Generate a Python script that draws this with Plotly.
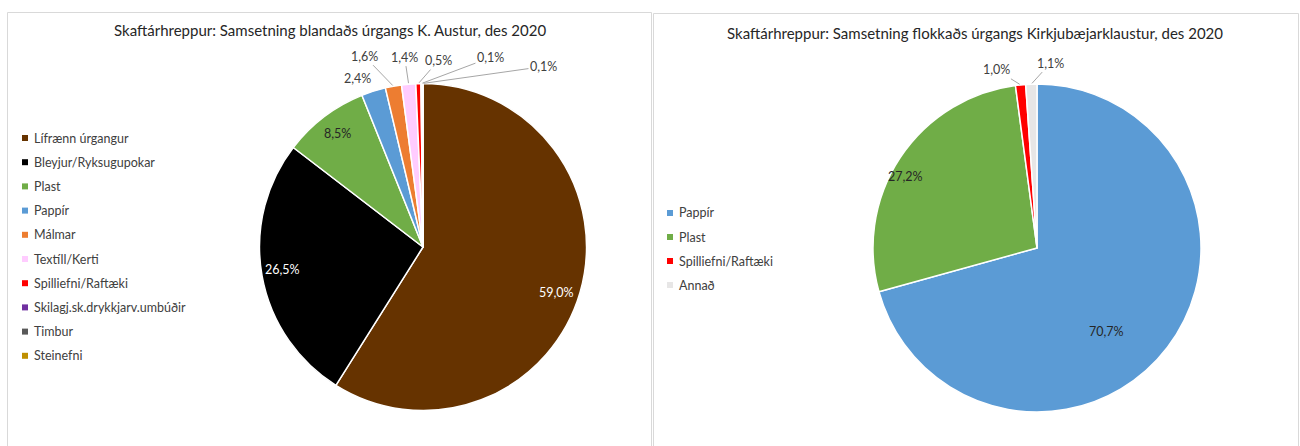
import math
import plotly.graph_objects as go

# ---------------- data ----------------
left_title = "Skaftárhreppur: Samsetning blandaðs úrgangs K. Austur, des 2020"
left_labels = ["Lífrænn úrgangur", "Bleyjur/Ryksugupokar", "Plast", "Pappír", "Málmar",
               "Textíll/Kerti", "Spilliefni/Raftæki", "Skilagj.sk.drykkjarv.umbúðir",
               "Timbur", "Steinefni"]
left_values = [59.0, 26.5, 8.5, 2.4, 1.6, 1.4, 0.5, 0.1, 0.1, 0.0]

right_title = "Skaftárhreppur: Samsetning flokkaðs úrgangs Kirkjubæjarklaustur, des 2020"
right_labels = ["Pappír", "Plast", "Spilliefni/Raftæki", "Annað"]
right_values = [70.7, 27.2, 1.0, 1.1]

# ---------------- styles ----------------
left_colors = ["#663300", "#000000", "#70AD47", "#5B9BD5", "#ED7D31",
               "#FFCCFF", "#FF0000", "#7030A0", "#595959", "#BF8F00"]
right_colors = ["#5B9BD5", "#70AD47", "#FF0000", "#E7E6E6"]

# label placement: ("in", dx, dy, color) or ("out", ox, oy, leader) or None
left_place = [("in", -3, 6, "white"), ("in", 0, -3, "white"), ("in", 1, 0, "#262626"),
              ("out", -16, -13, False), ("out", -29, -30, True), ("out", -4, -27, True),
              ("out", 20, -23, True), ("out", 69, -26, True), ("out", 121, -17, True), None]
right_place = [("in", -44, -3, "#262626"), ("in", -12, 7, "#262626"),
               ("out", -24, -15, True), ("out", 19, -21, True)]

W, H = 1300, 446
FONT = "Lato"
TXT = "#404040"

left_geo = dict(cx=423, cy=247, r=163.5)
right_geo = dict(cx=1037, cy=248, r=164)


def px(x):
    return x / W


def py(y):
    return 1 - y / H


def domain(g):
    return dict(x=[px(g["cx"] - g["r"]), px(g["cx"] + g["r"])],
                y=[py(g["cy"] + g["r"]), py(g["cy"] - g["r"])])


fig = go.Figure()
fig.add_trace(go.Pie(labels=left_labels, values=left_values, sort=False,
                     direction="clockwise", rotation=0, textinfo="none",
                     marker=dict(colors=left_colors, line=dict(color="white", width=1.5)),
                     domain=domain(left_geo), showlegend=False))
fig.add_trace(go.Pie(labels=right_labels, values=right_values, sort=False,
                     direction="clockwise", rotation=0, textinfo="none",
                     marker=dict(colors=right_colors, line=dict(color="white", width=1.5)),
                     domain=domain(right_geo), showlegend=False))

annotations = []
shapes = []


def fmt(v):
    return f"{v:.1f}%".replace(".", ",")


def add_labels(values, place, g):
    total = sum(values)
    cum = 0.0
    for v, p in zip(values, place):
        start = cum
        cum += v
        if p is None or v <= 0:
            continue
        mid = 2 * math.pi * (start + v / 2) / total
        s, c = math.sin(mid), math.cos(mid)
        if p[0] == "in":
            rr = 0.87 * g["r"]
            x = g["cx"] + rr * s + p[1]
            y = g["cy"] - rr * c + p[2]
            annotations.append(dict(x=px(x), y=py(y), xref="paper", yref="paper",
                                    xanchor="center", yanchor="middle",
                                    text=fmt(v), showarrow=False,
                                    font=dict(family=FONT, size=12.5, color=p[3])))
        else:
            x = g["cx"] + g["r"] * s
            y = g["cy"] - g["r"] * c
            annotations.append(dict(x=px(x), y=py(y), xref="paper", yref="paper",
                                    xanchor="center", yanchor="middle",
                                    text=fmt(v), showarrow=True, ax=p[1], ay=p[2],
                                    arrowhead=0, arrowwidth=1, standoff=1,
                                    arrowcolor="#A6A6A6" if p[3] else "rgba(0,0,0,0)",
                                    font=dict(family=FONT, size=12.5, color=TXT)))


add_labels(left_values, left_place, left_geo)
add_labels(right_values, right_place, right_geo)


def add_legend(labels, colors, mx, tx, y0, step):
    for i, (lab, col) in enumerate(zip(labels, colors)):
        y = y0 + i * step
        shapes.append(dict(type="rect", xref="paper", yref="paper",
                           x0=px(mx - 3), x1=px(mx + 3), y0=py(y + 3), y1=py(y - 3),
                           fillcolor=col, line=dict(width=0)))
        annotations.append(dict(x=px(tx), y=py(y), xref="paper", yref="paper",
                                xanchor="left", yanchor="middle", text=lab,
                                showarrow=False, font=dict(family=FONT, size=12.5, color=TXT)))


add_legend(left_labels, left_colors, 25, 32, 138, 24.2)
add_legend(right_labels, right_colors, 670, 677, 213, 24)

# titles
annotations.append(dict(x=px(330), y=py(30), xref="paper", yref="paper", text=left_title,
                        xanchor="center", yanchor="middle",
                        showarrow=False, font=dict(family=FONT, size=15, color="#262626")))
annotations.append(dict(x=px(975), y=py(33), xref="paper", yref="paper", text=right_title,
                        xanchor="center", yanchor="middle",
                        showarrow=False, font=dict(family=FONT, size=15, color="#262626")))

# panel borders
shapes.append(dict(type="rect", xref="paper", yref="paper", x0=px(7.5), x1=px(651.5),
                   y0=py(460), y1=py(12.5), line=dict(color="#D9D9D9", width=1),
                   layer="below"))
shapes.append(dict(type="rect", xref="paper", yref="paper", x0=px(653.5), x1=px(1298.5),
                   y0=py(460), y1=py(13.5), line=dict(color="#D9D9D9", width=1),
                   layer="below"))

fig.update_layout(width=W, height=H, margin=dict(l=0, r=0, t=0, b=0),
                  paper_bgcolor="white", plot_bgcolor="white",
                  annotations=annotations, shapes=shapes, showlegend=False)

fig.write_html("out.html", config={"displayModeBar": False},
               post_script="document.body.style.margin='0px';document.body.style.overflow='hidden';")
